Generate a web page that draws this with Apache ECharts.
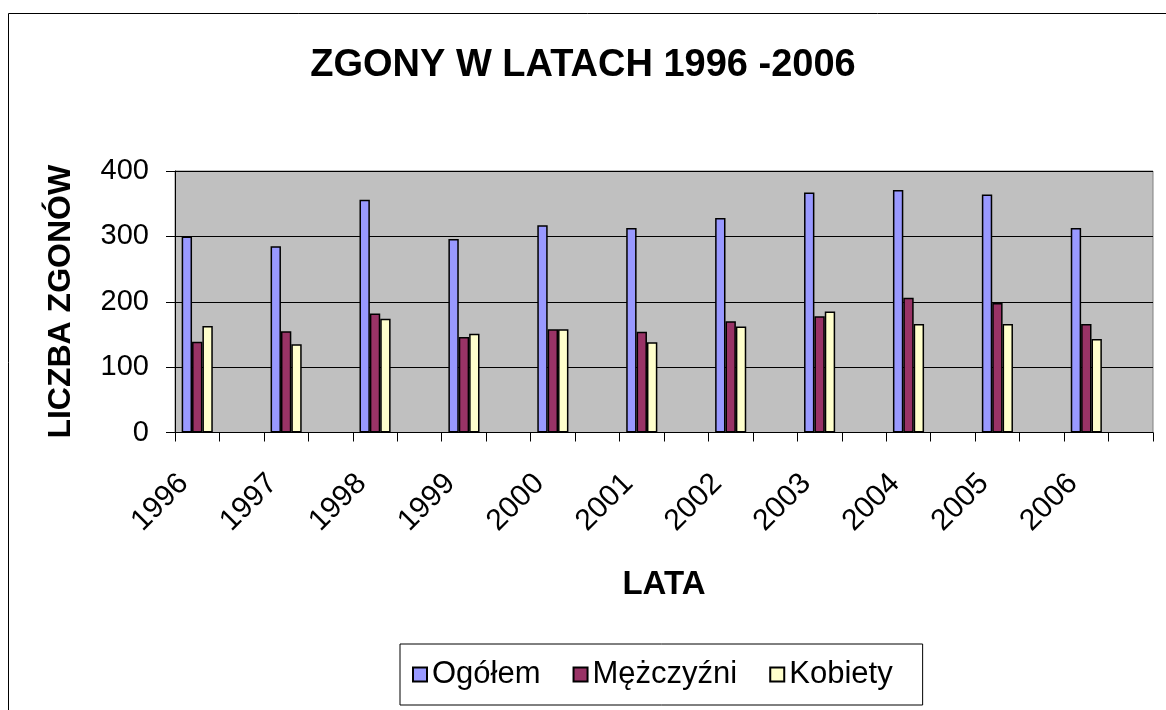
<!DOCTYPE html>
<html>
<head>
<meta charset="utf-8">
<script src="https://cdn.jsdelivr.net/npm/echarts@6/dist/echarts.min.js"></script>
<style>
html,body{margin:0;padding:0;background:#fff;}
#chart{width:1166px;height:710px;}
</style>
</head>
<body>
<div id="chart"></div>
<script>
const years = ['1996','1997','1998','1999','2000','2001','2002','2003','2004','2005','2006'];
const ogolem = [300, 285, 356, 296, 317, 313, 328, 367, 371, 364, 313];
const mezczyzni = [139, 155, 182, 146, 158, 154, 170, 178, 206, 198, 166];
const kobiety = [163, 135, 174, 151, 158, 138, 162, 185, 166, 166, 143];
const yTicks = [0, 100, 200, 300, 400];

// the source sheet has a blank row after each year
const categories = [];
const interleave = (arr) => { const out = []; arr.forEach(v => { out.push(v); out.push('-'); }); return out; };
years.forEach(y => { categories.push(y); categories.push(''); });

const FONT = '"Liberation Sans", Arial, sans-serif';
const chart = echarts.init(document.getElementById('chart'), null, {renderer: 'canvas'});
chart.setOption({
  animation: false,
  backgroundColor: '#ffffff',
  graphic: [{
    type: 'rect', left: 8, top: 13, z: -10,
    shape: {x: 0, y: 0, width: 1300, height: 900},
    style: {fill: '#ffffff', stroke: '#000000', lineWidth: 1}
  }],
  title: {
    text: 'ZGONY W LATACH 1996 -2006',
    left: 'center', top: 47, padding: 0,
    textStyle: {fontFamily: FONT, fontWeight: 'bold', fontSize: 38, color: '#000'}
  },
  legend: {
    left: 400, top: 644,
    padding: [15, 30, 15, 12],
    itemGap: 32,
    itemWidth: 14, itemHeight: 14,
    borderColor: '#000', borderWidth: 1, backgroundColor: '#fff',
    textStyle: {fontFamily: FONT, fontSize: 31, color: '#000'},
    data: [
      {name: 'Ogółem', icon: 'rect'},
      {name: 'Mężczyźni', icon: 'rect'},
      {name: 'Kobiety', icon: 'rect'}
    ]
  },
  grid: {
    left: 175, right: 13, top: 171, bottom: 277.5,
    show: true, backgroundColor: '#C0C0C0', borderColor: '#808080', borderWidth: 1,
    containLabel: false
  },
  xAxis: {
    type: 'category',
    data: categories,
    name: 'LATA', nameLocation: 'middle', nameGap: 136,
    nameTextStyle: {fontFamily: FONT, fontWeight: 'bold', fontSize: 33, color: '#000'},
    axisLine: {lineStyle: {color: '#000', width: 1}},
    axisTick: {show: true, interval: 0, alignWithLabel: false, length: 9, lineStyle: {color: '#000'}},
    axisLabel: {interval: 0, rotate: 45, margin: 33, padding: [0, 19, 0, 0],
      fontFamily: FONT, fontSize: 30, color: '#000'},
    splitLine: {show: false}
  },
  yAxis: {
    type: 'value', min: 0, max: 400, interval: 100,
    name: 'LICZBA ZGONÓW', nameLocation: 'middle', nameGap: 98, nameRotate: 90,
    nameTextStyle: {fontFamily: FONT, fontWeight: 'bold', fontSize: 32, color: '#000'},
    axisLine: {show: true, lineStyle: {color: '#000', width: 1}},
    axisTick: {show: true, length: 9, lineStyle: {color: '#000'}},
    axisLabel: {margin: 26, fontFamily: FONT, fontSize: 29, color: '#000',
      formatter: (v) => yTicks.includes(v) ? String(v) : ''},
    splitLine: {show: true, lineStyle: {color: '#000', width: 1}}
  },
  series: [
    {name: 'Ogółem', type: 'bar', data: interleave(ogolem), barGap: '0%', barCategoryGap: '30%',
     itemStyle: {color: '#9999FF', borderColor: '#000', borderWidth: 1.5}},
    {name: 'Mężczyźni', type: 'bar', data: interleave(mezczyzni), barGap: '0%', barCategoryGap: '30%',
     itemStyle: {color: '#993366', borderColor: '#000', borderWidth: 1.5}},
    {name: 'Kobiety', type: 'bar', data: interleave(kobiety), barGap: '0%', barCategoryGap: '30%',
     itemStyle: {color: '#FFFFCC', borderColor: '#000', borderWidth: 1.5}}
  ]
});
</script>
</body>
</html>
